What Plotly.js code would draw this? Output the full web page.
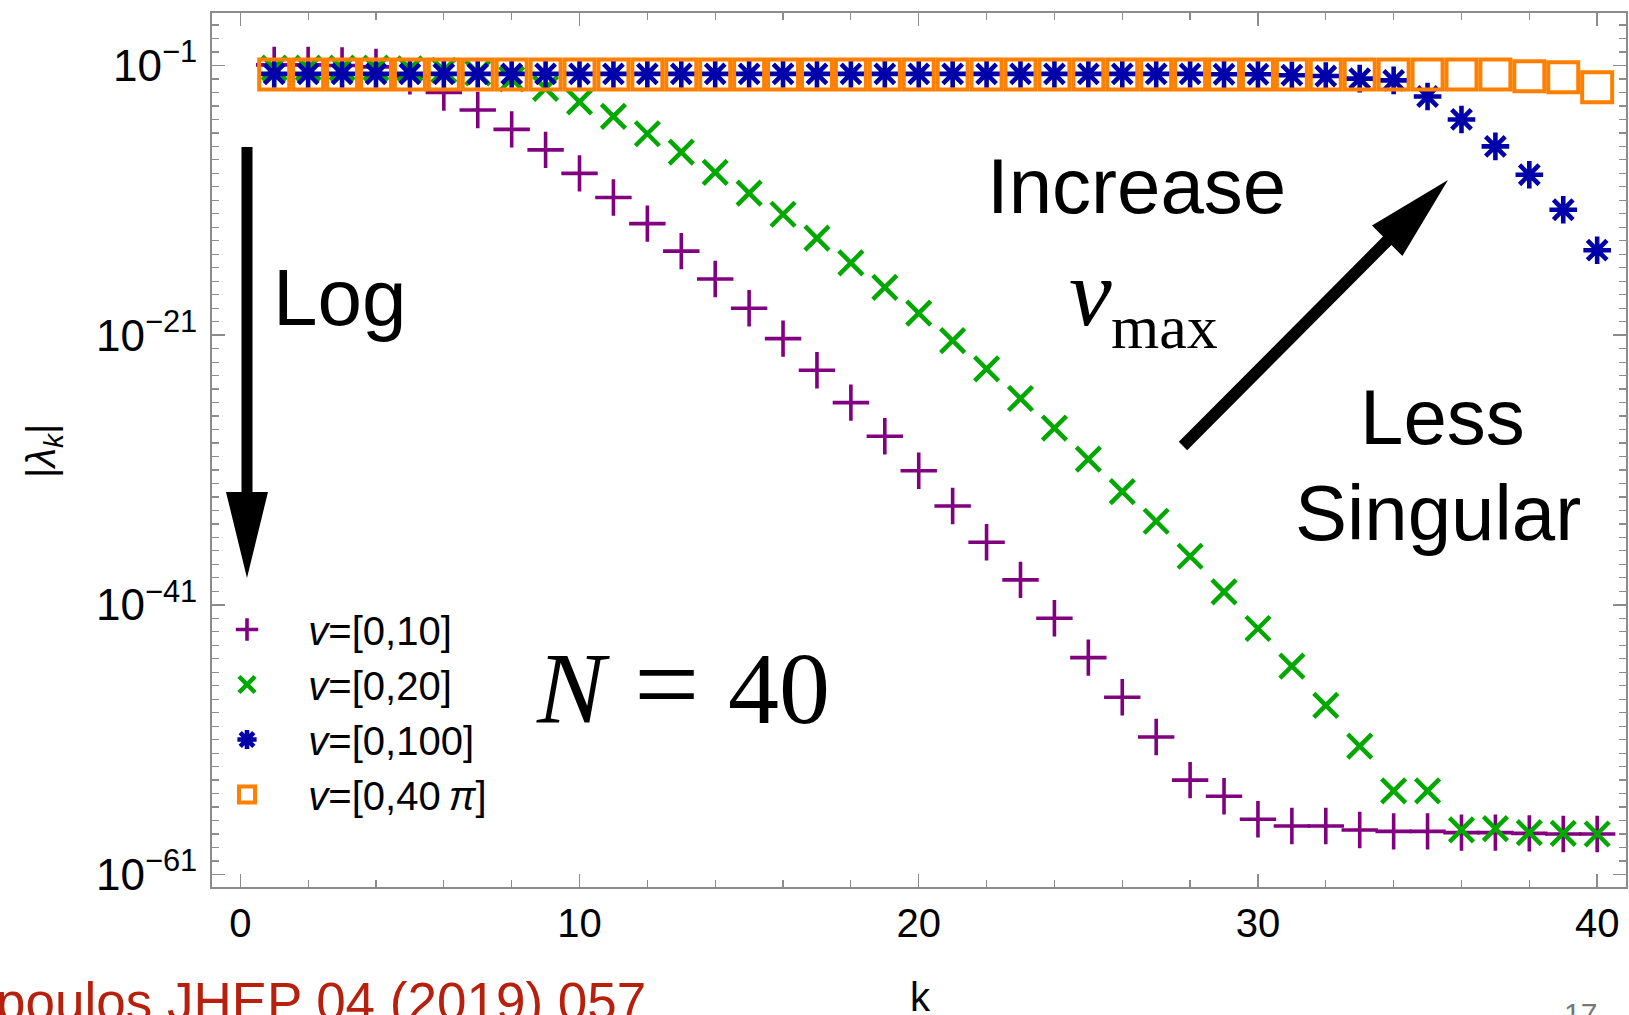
<!DOCTYPE html>
<html><head><meta charset="utf-8">
<script src="https://cdn.plot.ly/plotly-3.0.1.min.js"></script>
<style>html,body{margin:0;padding:0;background:#fff;} #chart{width:1629px;height:1015px;}</style>
</head><body><div id="chart"></div>
<script>
// ---- data ----
const k = [1,2,3,4,5,6,7,8,9,10,11,12,13,14,15,16,17,18,19,20,21,22,23,24,25,26,27,28,29,30,31,32,33,34,35,36,37,38,39,40];
const lambda_v10 = [1.12e-1,1.12e-1,1.0e-1,7.94e-2,1.58e-2,1.0e-3,5.01e-5,1.82e-6,5.50e-8,1.0e-9,
  1.62e-11,1.86e-13,1.70e-15,1.45e-17,1.0e-19,5.50e-22,2.51e-24,1.0e-26,3.16e-29,8.71e-32,
  2.14e-34,4.37e-37,7.08e-40,1.0e-42,1.20e-45,1.41e-48,1.58e-51,1.0e-54,6.31e-56,1.26e-57,
  3.98e-58,3.98e-58,2.0e-58,1.58e-58,1.58e-58,1.26e-58,1.26e-58,1.12e-58,1.0e-58,1.0e-58];
const lambda_v20 = [6.31e-2,6.31e-2,6.31e-2,6.31e-2,5.62e-2,4.47e-2,2.82e-2,1.0e-2,2.0e-3,2.0e-4,
  1.70e-5,8.71e-7,3.72e-8,1.20e-9,3.47e-11,9.33e-13,1.58e-14,2.29e-16,3.55e-18,4.37e-20,
  3.98e-22,3.16e-24,2.0e-26,1.26e-28,6.31e-31,2.51e-33,1.58e-35,3.98e-38,9.12e-41,1.74e-43,
  2.82e-46,3.47e-49,3.31e-52,1.58e-55,1.58e-55,2.0e-58,2.51e-58,1.26e-58,1.12e-58,1.0e-58];
const lambda_v100 = [2.40e-2,2.40e-2,2.40e-2,2.40e-2,2.40e-2,2.40e-2,2.40e-2,2.40e-2,2.40e-2,2.40e-2,
  2.40e-2,2.40e-2,2.40e-2,2.40e-2,2.40e-2,2.40e-2,2.40e-2,2.40e-2,2.40e-2,2.40e-2,
  2.40e-2,2.40e-2,2.40e-2,2.40e-2,2.40e-2,2.40e-2,2.40e-2,2.40e-2,2.24e-2,2.24e-2,
  1.91e-2,1.66e-2,1.07e-2,7.94e-3,5.01e-4,1.0e-5,1.0e-7,7.94e-10,2.0e-12,2.0e-15];
const lambda_v40pi = [2.14e-2,2.14e-2,2.14e-2,2.14e-2,2.14e-2,2.14e-2,2.14e-2,2.14e-2,2.14e-2,2.14e-2,
  2.14e-2,2.14e-2,2.14e-2,2.14e-2,2.14e-2,2.14e-2,2.14e-2,2.14e-2,2.14e-2,2.14e-2,
  2.14e-2,2.14e-2,2.14e-2,2.14e-2,2.14e-2,2.14e-2,2.14e-2,2.14e-2,2.14e-2,2.14e-2,
  2.14e-2,2.14e-2,2.14e-2,2.14e-2,2.14e-2,2.14e-2,2.14e-2,1.62e-2,1.35e-2,2.40e-3];
const seriesNames = ['<i>v</i>=[0,10]','<i>v</i>=[0,20]','<i>v</i>=[0,100]','<i>v</i>=[0,40\u2009<i>π</i>]'];
const xTickVals = [0,10,20,30,40];
const yTickVals = [1e-1,1e-21,1e-41,1e-61];
const yTickText = ['10<sup>\u22121</sup>','10<sup>\u221221</sup>','10<sup>\u221241</sup>','10<sup>\u221261</sup>'];

// ---- layout helpers (pixel -> paper) ----
const W = 1629, H = 1015, L = 212, R = 3, T = 13, B = 128;
const PW = W - L - R, PH = H - T - B;
const px = x => (x - L) / PW;
const py = y => (H - B - y) / PH;
const SANS = 'Liberation Sans, Arial, Helvetica, sans-serif';
const SERIF = 'Liberation Serif, Times New Roman, serif';
const NB = '\u00a0\u00a0\u00a0\u2009';

function txt(text, x, baseline, size, family, xanchor, color, extra) {
  const asc = family === SERIF ? 0.3375 : 0.3465;
  return Object.assign({
    text: text, xref: 'paper', yref: 'paper', x: px(x), y: py(baseline - asc * size),
    xanchor: xanchor, yanchor: 'middle', showarrow: false, borderpad: 0,
    font: {family: family, size: size, color: color || '#000'}
  }, extra || {});
}
function path(pts) {
  return 'M' + pts.map(p => px(p[0]).toFixed(5) + ',' + py(p[1]).toFixed(5)).join('L') + 'Z';
}

const traces = [
  {x: k, y: lambda_v10, name: NB + seriesNames[0], mode: 'markers', type: 'scatter',
   marker: {symbol: 'cross-thin', size: 26, color: '#800080', line: {color: '#800080', width: 3.6}}},
  {x: k, y: lambda_v20, name: NB + seriesNames[1], mode: 'markers', type: 'scatter',
   marker: {symbol: 'x-thin', size: 24, color: '#00a800', line: {color: '#00a800', width: 4.5}}},
  {x: k, y: lambda_v100, name: NB + seriesNames[2], mode: 'markers', type: 'scatter',
   marker: {symbol: 'asterisk-open', size: 23, color: '#0000aa', line: {color: '#0000aa', width: 4.6}}},
  {x: k, y: lambda_v40pi, name: NB + seriesNames[3], mode: 'markers', type: 'scatter',
   marker: {symbol: 'square-open', size: 30, color: '#ff8000', line: {color: '#ff8000', width: 4}}}
];

const yMinor = [];
for (let e = 2; e >= -61; e--) yMinor.push(Math.pow(10, e));

const axisCommon = {
  showline: true, linecolor: '#8c8c8c', linewidth: 2, mirror: 'ticks',
  ticks: 'inside', ticklen: 13, tickwidth: 1.5, tickcolor: '#8c8c8c',
  showgrid: false, zeroline: false,
  tickfont: {family: SANS, size: 40, color: '#000'}
};

const layout = {
  width: W, height: H,
  margin: {l: L, r: R, t: T, b: B, pad: 0},
  paper_bgcolor: '#fff', plot_bgcolor: '#fff',
  showlegend: true,
  legend: {x: px(227), y: py(597), xanchor: 'left', yanchor: 'top',
           bgcolor: 'rgba(0,0,0,0)', borderwidth: 0,
           font: {family: SANS, size: 40, color: '#000'}},
  xaxis: Object.assign({}, axisCommon, {
    range: [-0.834, 40.85], tickmode: 'array', tickvals: xTickVals,
    ticklabelstandoff: 0,
    minor: {tickmode: 'linear', tick0: 0, dtick: 2, ticks: 'inside', ticklen: 7, tickwidth: 1.2, tickcolor: '#8c8c8c', showgrid: false}
  }),
  yaxis: Object.assign({}, axisCommon, {
    type: 'log', range: [-61.93, 2.895], tickmode: 'array', tickvals: yTickVals, ticktext: yTickText,
    ticklabelstandoff: 4,
    tickfont: {family: SANS, size: 44, color: '#000'},
    minor: {tickmode: 'array', tickvals: yMinor, ticks: 'inside', ticklen: 7, tickwidth: 1.2, tickcolor: '#8c8c8c', showgrid: false}
  }),
  annotations: [
    txt('Log', 272, 325, 80, SANS, 'left'),
    txt('Increase', 986, 213, 78, SANS, 'left'),
    txt('Less', 1442, 444, 78, SANS, 'center'),
    txt('Singular', 1438, 540, 78, SANS, 'center'),
    txt('<i>ν</i>', 1068, 325, 96, SERIF, 'left'),
    txt('max', 1110, 348, 62, SERIF, 'left'),
    txt('<i>N</i>', 535, 723, 102, SERIF, 'left'),
    txt('=', 633, 723, 116, SERIF, 'left'),
    txt('40', 727, 723, 102, SERIF, 'left'),
    {text: '|<i>λ</i><sub><i>k</i></sub>|', xref: 'paper', yref: 'paper', x: px(44), y: py(451),
     xanchor: 'center', yanchor: 'middle', showarrow: false, textangle: -90,
     font: {family: SANS, size: 40, color: '#000'}},
    txt('k', 920, 1011, 40, SANS, 'center'),
    txt('poulos JHEP 04 (2019) 057', 647, 1020, 53, SANS, 'right', '#b8200e'),
    txt('17', 1598, 1024, 30, SANS, 'right', '#777')
  ],
  shapes: [
    {type: 'path', xref: 'paper', yref: 'paper', fillcolor: '#000', line: {width: 0},
     path: path([[241.5,147],[241.5,492],[226,492],[247,578],[268,492],[252.5,492],[252.5,147]])},
    {type: 'path', xref: 'paper', yref: 'paper', fillcolor: '#000', line: {width: 0},
     path: path([[1178.8,441.8],[1383.0,236.6],[1372,225.6],[1448,180],[1402.4,256],[1391.4,245.0],[1187.2,450.2]])}
  ]
};

Plotly.newPlot('chart', traces, layout, {displayModeBar: false, staticPlot: true});
</script>
</body></html>
